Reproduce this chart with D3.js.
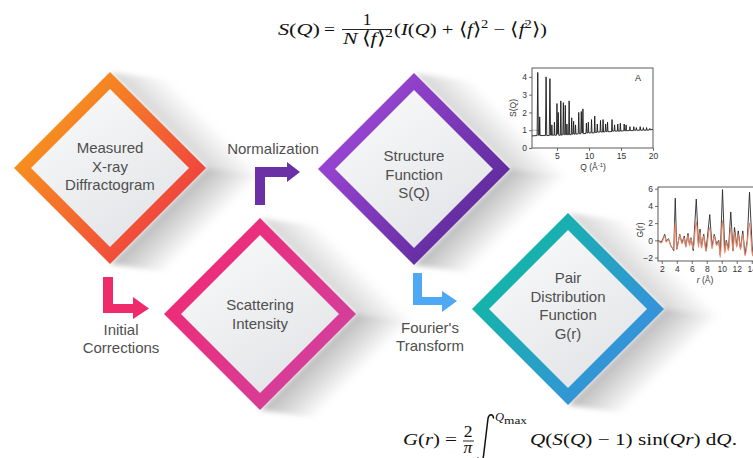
<!DOCTYPE html>
<html><head><meta charset="utf-8">
<script src="https://cdn.jsdelivr.net/npm/d3@7"></script>
<style>body{margin:0;background:#fff;overflow:hidden}svg{display:block}</style>
</head><body><svg id="c" width="753" height="458"></svg>
<script>
// ---------------- DATA ----------------
const stepLines = [["Measured","X-ray","Diffractogram"],["Scattering","Intensity"],["Structure","Function","S(Q)"],["Pair","Distribution","Function","G(r)"]];
const stepColors = [["#f7941d","#ef3b42"],["#ee2c76","#d1419f"],["#9b46d4","#5a2998"],["#12b6a6","#3b8de2"]];
const arrowLabels = [["Initial","Corrections"],["Normalization"],["Fourier's","Transform"]];
const arrowColors = ["#ef2b6c","#6b2fa6","#4fa8f3"];

// S(Q) curve
const sqQ = [1.1,1.9,2.0,2.1,2.25,2.3,2.36,3.2,3.3,3.4,3.8,3.9,4.0,4.15,4.2,4.27,4.55,4.6,4.67,4.93,5.0,5.07,5.15,5.2,5.27,5.52,5.6,5.68,5.92,6.0,6.08,6.23,6.3,6.37,6.5,6.55,6.62,6.82,6.9,6.98,7.23,7.3,7.37,7.53,7.6,7.67,7.83,7.9,7.97,8.32,8.4,8.48,8.72,8.8,8.88,8.98,9.05,9.12,9.53,9.6,9.67,9.83,9.9,9.97,10.33,10.4,10.47,10.83,10.9,10.97,11.23,11.3,11.37,11.73,11.8,11.87,12.13,12.2,12.27,12.53,12.6,12.67,12.83,12.9,12.97,13.53,13.6,13.67,13.93,14.0,14.07,14.43,14.5,14.57,14.83,14.9,14.97,15.43,15.5,15.57,15.73,15.8,15.87,16.33,16.4,16.47,16.93,17.0,17.07,17.33,17.4,17.47,17.93,18.0,18.07,18.43,18.5,18.57,18.93,19.0,19.07,19.43,19.5,19.57,20.0];
const sqS = [0.68,0.7,4.25,0.72,0.72,1.75,0.7,0.7,4.0,0.7,0.7,3.9,0.72,0.72,1.3,0.72,0.72,1.45,0.72,0.72,2.5,0.8,0.8,2.0,0.72,0.72,2.65,0.72,0.75,2.55,0.75,0.75,2.4,0.75,0.75,1.35,0.75,0.75,2.65,0.75,0.75,1.7,0.78,0.78,1.5,0.78,0.78,1.3,0.78,0.8,2.0,0.8,0.8,2.05,0.85,0.85,2.2,0.8,0.82,1.4,0.85,0.85,1.45,0.85,0.85,1.6,0.85,0.85,1.8,0.88,0.88,1.35,0.9,0.9,1.55,0.9,0.9,1.6,0.9,0.92,1.35,0.92,0.92,1.45,0.92,0.92,1.6,0.95,0.95,1.3,0.95,0.95,1.35,0.95,0.95,1.4,0.95,0.97,1.35,0.97,0.97,1.3,0.97,0.98,1.2,0.98,0.98,1.2,1.0,1.0,1.15,1.0,1.0,1.2,1.0,1.0,1.15,1.0,1.0,1.15,1.0,1.02,1.1,1.02,1.05];
const sqXTicks = [5,10,15,20];
const sqYTicks = [0,1,2,3,4];

// G(r) curves
const grR   = [1.5,1.95,2.4,2.6,2.9,3.2,3.6,3.8,4.0,4.4,4.7,5.0,5.2,5.5,5.7,5.9,6.2,6.6,6.9,7.1,7.3,7.6,7.9,8.4,8.7,9.0,9.3,9.6,9.8,10.1,10.4,10.6,10.9,11.2,11.5,11.7,12.0,12.2,12.5,12.8,13.1,13.4,13.7,14.1,14.4,14.7];
const grG   = [0,-0.2,0.7,-0.1,0.2,-0.6,-1.2,4.9,-1.0,0.7,-0.3,0.5,-0.7,0.8,-0.5,0.3,-1.2,4.8,-0.5,1.3,-0.7,0.7,-1.2,3.0,-0.7,0.7,-0.4,0,-1.7,5.9,-1.2,0,-1.0,3.3,-1.2,1.5,-0.6,1.1,-1.0,1.1,-1.6,0,5.6,-1.6,0.5,-0.5];
const grFit = [0,-0.3,0.5,-0.2,0.1,-0.6,-1.0,2.2,-1.1,0.6,-0.4,0.3,-0.8,0.6,-0.6,0.2,-1.0,2.2,-0.8,1.0,-0.9,0.5,-1.3,1.5,-1.0,0.5,-0.6,-0.2,-2.0,2.3,-1.5,-0.2,-1.2,1.5,-1.3,0.9,-0.8,0.7,-1.1,0.7,-1.8,-0.3,2.0,-1.8,0.2,-0.6];
const grXTicks = [2,4,6,8,10,12,14,16];
const grYTicks = [-2,0,2,4,6];

// ---------------- LAYOUT ----------------
const svg = d3.select("#c");
const defs = svg.append("defs");
const centers = [[110,168],[260,314],[414,169],[568,309]];
const textTop = [153,310,161,283];
const OUT = 96, IN = 79, LINE = 18.5;
const SH = [70,10];
const FONT = "'Liberation Sans', Arial, sans-serif";
const SERIF = "'Liberation Serif', 'Times New Roman', serif";

const blur = defs.append("filter").attr("id","blur").attr("x","-20%").attr("y","-20%").attr("width","140%").attr("height","140%");
blur.append("feGaussianBlur").attr("stdDeviation",2.5);

const inner = defs.append("linearGradient").attr("id","inner").attr("x1",0).attr("y1",0).attr("x2",0.6).attr("y2",1);
inner.append("stop").attr("offset",0).attr("stop-color","#fbfbfb");
inner.append("stop").attr("offset",1).attr("stop-color","#e3e5e8");

const dia = (cx,cy,h)=>[[cx,cy-h],[cx+h,cy],[cx,cy+h],[cx-h,cy]];
const poly = pts => "M"+pts.map(p=>p.join(",")).join("L")+"Z";

// shadows
const shG = svg.append("g").attr("filter","url(#blur)");
centers.forEach(([cx,cy],i)=>{
  const T=[cx,cy-OUT], R=[cx+OUT,cy], B=[cx,cy+OUT];
  const add=(p,s)=>[p[0]+s[0],p[1]+s[1]];
  const g1 = defs.append("linearGradient").attr("id","shu"+i).attr("gradientUnits","userSpaceOnUse")
    .attr("x1",cx+OUT/2).attr("y1",cy-OUT/2).attr("x2",cx+OUT/2+26).attr("y2",cy-OUT/2-26);
  g1.append("stop").attr("offset",0).attr("stop-color","#8a8a8a").attr("stop-opacity",0.35);
  g1.append("stop").attr("offset",1).attr("stop-color","#8a8a8a").attr("stop-opacity",0);
  const g2 = defs.append("linearGradient").attr("id","shl"+i).attr("gradientUnits","userSpaceOnUse")
    .attr("x1",cx+OUT/2).attr("y1",cy+OUT/2).attr("x2",cx+OUT/2+32).attr("y2",cy+OUT/2+32);
  g2.append("stop").attr("offset",0).attr("stop-color","#7a7a7a").attr("stop-opacity",0.5);
  g2.append("stop").attr("offset",1).attr("stop-color","#7a7a7a").attr("stop-opacity",0);
  shG.append("path").attr("d",poly([T,add(T,SH),add(R,SH),R])).attr("fill",`url(#shu${i})`);
  shG.append("path").attr("d",poly([R,add(R,SH),add(B,SH),B])).attr("fill",`url(#shl${i})`);
});

// diamonds
centers.forEach(([cx,cy],i)=>{
  const gr = defs.append("linearGradient").attr("id","fr"+i).attr("x1",0).attr("y1",0.1).attr("x2",1).attr("y2",0.9);
  gr.append("stop").attr("offset",0.15).attr("stop-color",stepColors[i][0]);
  gr.append("stop").attr("offset",0.9).attr("stop-color",stepColors[i][1]);
  svg.append("path").attr("d",poly(dia(cx,cy,OUT))).attr("fill",`url(#fr${i})`);
  svg.append("path").attr("d",poly(dia(cx,cy,IN))).attr("fill","url(#inner)");
  const t = svg.append("text").attr("font-family",FONT).attr("font-size",15).attr("fill","#4f4f4f").attr("text-anchor","middle");
  stepLines[i].forEach((ln,j)=>t.append("tspan").attr("x",cx).attr("y",textTop[i]+j*LINE).text(ln));
});

// arrows
const arrowGeo = [
  {vx:[103,113],vy:[277,313],hy:[304,313],hx:133,head:[297,319,149]},
  {vx:[255,265],vy:[167,205],hy:[167,177],hx:287,head:[162,182,300]},
  {vx:[413,422],vy:[273,305],hy:[297,305],hx:442,head:[291,312,457]}
];
arrowGeo.forEach((a,i)=>{
  const g = svg.append("g").attr("fill",arrowColors[i]);
  g.append("rect").attr("x",a.vx[0]).attr("y",a.vy[0]).attr("width",a.vx[1]-a.vx[0]).attr("height",a.vy[1]-a.vy[0]);
  g.append("rect").attr("x",a.vx[0]).attr("y",a.hy[0]).attr("width",a.hx-a.vx[0]+0.5).attr("height",a.hy[1]-a.hy[0]);
  g.append("path").attr("d",poly([[a.hx,a.head[0]],[a.head[2],(a.hy[0]+a.hy[1])/2],[a.hx,a.head[1]]]));
});
const labelPos = [[121,335],[273,154],[430,333]];
arrowLabels.forEach((lines,i)=>{
  const t = svg.append("text").attr("font-family",FONT).attr("font-size",15).attr("fill","#4f4f4f").attr("text-anchor","middle");
  lines.forEach((ln,j)=>t.append("tspan").attr("x",labelPos[i][0]).attr("y",labelPos[i][1]+j*18).text(ln));
});

// ---------------- S(Q) PLOT ----------------
const fmt = d3.format("d");
const sx = d3.scaleLinear().domain([1.1,20]).range([532,653]);
const sy = d3.scaleLinear().domain([0,4.5]).range([148,68]);
svg.append("rect").attr("x",532).attr("y",68).attr("width",121).attr("height",80).attr("fill","#fff");
svg.append("line").attr("x1",sx(1.1)).attr("x2",sx(2.2)).attr("y1",sy(1)).attr("y2",sy(1)).attr("stroke","#aaa").attr("stroke-width",0.8);
svg.append("path").attr("d",d3.line().x(d=>sx(d[0])).y(d=>sy(d[1]))(sqQ.map((q,k)=>[q,sqS[k]])))
  .attr("fill","none").attr("stroke","#1a1a1a").attr("stroke-width",0.9);
const axStyle = g=>{g.select(".domain").remove();g.selectAll("text").attr("font-family",FONT).attr("font-size",8.5).attr("fill","#333");g.selectAll("line").attr("stroke","#333").attr("stroke-width",0.7);};
svg.append("g").attr("transform","translate(0,148)").call(d3.axisBottom(sx).tickValues(sqXTicks).tickFormat(fmt).tickSize(3).tickPadding(1.5)).call(axStyle);
svg.append("g").attr("transform","translate(532,0)").call(d3.axisLeft(sy).tickValues(sqYTicks).tickFormat(fmt).tickSize(3).tickPadding(2)).call(axStyle);
svg.append("rect").attr("x",532).attr("y",68).attr("width",121).attr("height",80).attr("fill","none").attr("stroke","#333").attr("stroke-width",0.8);
svg.append("text").attr("transform","translate(516,108) rotate(-90)").attr("text-anchor","middle").attr("font-family",FONT).attr("font-size",8.5).attr("fill","#333").text("S(Q)");
const ql = svg.append("text").attr("x",593).attr("y",169.5).attr("text-anchor","middle").attr("font-family",FONT).attr("font-size",8.5).attr("fill","#333");
ql.append("tspan").text("Q (Å");ql.append("tspan").attr("dy",-3).attr("font-size",6).text("-1");ql.append("tspan").attr("dy",3).text(")");
svg.append("text").attr("x",638).attr("y",81).attr("text-anchor","middle").attr("font-family",FONT).attr("font-size",9).attr("fill","#222").text("A");

// ---------------- G(r) PLOT ----------------
const gx = d3.scaleLinear().domain([1.5,18]).range([658,658+16.5*7.5]);
const gy = d3.scaleLinear().domain([-2.4,6.2]).range([261,187]);
svg.append("rect").attr("x",658).attr("y",187).attr("width",140).attr("height",74).attr("fill","#fff");
defs.append("clipPath").attr("id","gclip").append("rect").attr("x",658).attr("y",187).attr("width",140).attr("height",74);
const gl = d3.line().x((d,k)=>gx(grR[k])).y(d=>gy(d));
svg.append("path").attr("clip-path","url(#gclip)").attr("d",gl(grG)).attr("fill","none").attr("stroke","#2a2a2a").attr("stroke-width",0.9);
svg.append("path").attr("clip-path","url(#gclip)").attr("d",gl.curve(d3.curveMonotoneX)(grFit)).attr("fill","none").attr("stroke","#e8876a").attr("stroke-width",1.1);
svg.append("g").attr("transform","translate(0,261)").call(d3.axisBottom(gx).tickValues(grXTicks).tickFormat(fmt).tickSize(3).tickPadding(1.5)).call(axStyle);
svg.append("g").attr("transform","translate(658,0)").call(d3.axisLeft(gy).tickValues(grYTicks).tickFormat(fmt).tickSize(3).tickPadding(2)).call(axStyle);
svg.append("rect").attr("x",658).attr("y",187).attr("width",140).attr("height",74).attr("fill","none").attr("stroke","#333").attr("stroke-width",0.8);
svg.append("text").attr("transform","translate(643,230) rotate(-90)").attr("text-anchor","middle").attr("font-family",FONT).attr("font-size",8.5).attr("fill","#333").text("G(r)");
const rl = svg.append("text").attr("x",705).attr("y",283).attr("text-anchor","middle").attr("font-family",FONT).attr("font-size",8.5).attr("fill","#333");
rl.append("tspan").attr("font-style","italic").text("r");rl.append("tspan").text(" (Å)");

// ---------------- FORMULAS ----------------
const FS = 17.5;
function mt(x,y,len,parts,anchor){
  const t = svg.append("text").attr("x",x).attr("y",y).attr("font-family",SERIF).attr("font-size",FS).attr("fill","#111");
  if(anchor) t.attr("text-anchor",anchor);
  if(len) t.attr("textLength",len).attr("lengthAdjust","spacingAndGlyphs");
  parts.forEach(p=>{
    const s = t.append("tspan").text(p[0]);
    if(p[1]&&p[1].includes("i")) s.attr("font-style","italic");
    if(p[1]&&p[1].includes("u")) s.attr("font-size",FS*0.7).attr("dy",-7);
    if(p[1]&&p[1].includes("d")) s.attr("dy",7);
  });
  return t;
}
// top
mt(278,35,42,[["S","i"],["("],["Q","i"],[")"]]);
mt(324,35,11,[["="]]);
mt(367,25,null,[["1"]],"middle");
svg.append("line").attr("x1",342).attr("x2",392).attr("y1",29.5).attr("y2",29.5).attr("stroke","#111").attr("stroke-width",0.9);
mt(343,44,50,[["N","i"],["\u2009\u27E8"],["f","i"],["\u27E9"],["2","u"]]);
mt(394,35,153,[["("],["I","i"],["("],["Q","i"],[") + \u27E8"],["f","i"],["\u27E9"],["2","u"],[" \u2212 \u27E8","d"],["f","i"],["2","u"],["\u27E9)","d"]]);
// bottom
mt(403,445,37,[["G","i"],["("],["r","i"],[")"]]);
mt(445,445,12,[["="]]);
mt(468,437,null,[["2"]],"middle");
svg.append("line").attr("x1",463).attr("x2",474).attr("y1",441).attr("y2",441).attr("stroke","#111").attr("stroke-width",0.9);
mt(468,453,null,[["\u03C0","i"]],"middle");
svg.append("path").attr("d","M493.5,418 C493,413.5 489,413.5 488,418.5 L483.5,456 C482.5,462 478.5,462 478,458").attr("fill","none").attr("stroke","#111").attr("stroke-width",1.5).attr("stroke-linecap","round");
svg.append("text").attr("x",495).attr("y",421).attr("font-family",SERIF).attr("font-size",12.5).attr("font-style","italic").attr("fill","#111").text("Q");
svg.append("text").attr("x",504).attr("y",424).attr("font-family",SERIF).attr("font-size",9.5).attr("fill","#111").attr("textLength",23).attr("lengthAdjust","spacingAndGlyphs").text("max");
svg.append("text").attr("x",487).attr("y",466).attr("font-family",SERIF).attr("font-size",12.5).attr("font-style","italic").attr("fill","#111").text("Q");
svg.append("text").attr("x",500).attr("y",469).attr("font-family",SERIF).attr("font-size",9.5).attr("fill","#111").text("min");
mt(530,445,207,[["Q","i"],["("],["S","i"],["("],["Q","i"],[") \u2212 1) sin("],["Q","i"],["r","i"],[") d"],["Q","i"],["."]]);
</script></body></html>
